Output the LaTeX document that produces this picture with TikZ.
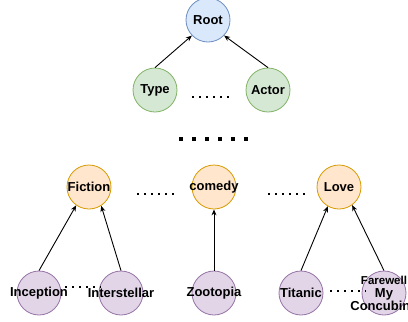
\documentclass[tikz,border=0pt]{standalone}
\usepackage{fontspec}
\setmainfont{Liberation Sans}
\usepackage{tikz}
\usetikzlibrary{arrows.meta}
\definecolor{rootF}{HTML}{dae8fc}
\definecolor{rootD}{HTML}{6c8ebf}
\definecolor{catF}{HTML}{d5e8d4}
\definecolor{catD}{HTML}{82b366}
\definecolor{genF}{HTML}{ffe6cc}
\definecolor{genD}{HTML}{d79b00}
\definecolor{filmF}{HTML}{e1d5e7}
\definecolor{filmD}{HTML}{9673a6}
\tikzset{
  bub/.style={circle,minimum size=44pt,inner sep=0pt,line width=0.8pt,
              label={[font=\bfseries\fontsize{13}{13}\selectfont,align=center]center:#1}},
  rootnode/.style={bub=#1,draw=rootD,fill=rootF},
  catnode/.style={bub=#1,draw=catD,fill=catF},
  genre/.style={bub=#1,draw=genD,fill=genF},
  film/.style={bub=#1,draw=filmD,fill=filmF},
  up/.style={-{Stealth[length=6pt,width=5pt]},line width=0.9pt},
  ellip/.style={line width=2pt,dash pattern=on 2pt off 5pt},
  bigellip/.style={line width=3.5pt,dash pattern=on 3.5pt off 9.5pt},
}

\begin{document}
\begin{tikzpicture}[x=1pt,y=-1pt]
  \useasboundingbox (0,0) rectangle (408,322);
  % top of the tree
  \node[rootnode=Root] (root) at (208,20) {};
  \node[catnode=Type] (type) at (155,90) {};
  \node[catnode=Actor] (actor) at (268,90) {};
  % genres
  \node[genre=Fiction] (fic) at (89,187) {};
  \node[genre=comedy] (com) at (214,187) {};
  \node[genre=Love] (love) at (339,187) {};
  % films
  \node[film=Inception] (incep) at (39,293) {};
  \node[film=Interstellar] (inter) at (121,293) {};
  \node[film=Zootopia] (zoo) at (214,293) {};
  \node[film=Titanic] (tit) at (301,293) {};
  \node[film={\fontsize{11.5}{13}\selectfont Farewell\\My\\Concubine}]
        (fare) at (384,293) {};

  \draw[up] (type.north) -- (root.-136);
  \draw[up] (actor.north) -- (root.-44);
  \draw[up] (incep.north) -- (fic.-125);
  \draw[up] (inter.north) -- (fic.-57);
  \draw[up] (zoo) -- (com);
  \draw[up] (tit.north) -- (love.-120);
  \draw[up] (fare.north) -- (love.-54);

  % elided siblings
  \coordinate (e1a) at (192,97);  \coordinate (e1b) at (229,97);
  \coordinate (e2a) at (137,194); \coordinate (e2b) at (174,194);
  \coordinate (e3a) at (268,194); \coordinate (e3b) at (305,194);
  \coordinate (e4a) at (65,287);  \coordinate (e4b) at (101,287);
  \coordinate (e5a) at (330,291); \coordinate (e5b) at (366,291);
  \coordinate (gapa) at (179,139); \coordinate (gapb) at (250,139);
  \foreach \s in {1,...,5}{\draw[ellip] (e\s a) -- (e\s b);}
  \draw[bigellip] (gapa) -- (gapb);
\end{tikzpicture}
\end{document}
